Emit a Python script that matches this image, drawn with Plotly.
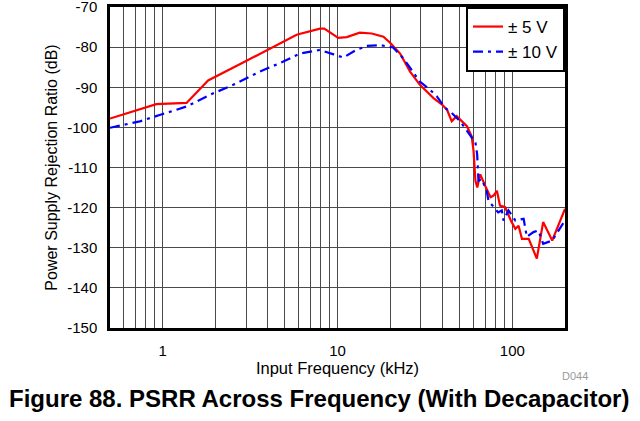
import numpy as np
import plotly.graph_objects as go

# PSRR vs frequency
freq_5v = [0.5, 0.92, 1.37, 1.82, 3.02, 5.84, 7.94, 8.4, 10.1, 11.3, 13.4, 15.7, 18.3, 20,
           22.8, 26, 29.6, 35.4, 39.6, 42.3, 45, 48, 55, 58.5, 60, 61.5, 63, 65.5, 70, 75,
           78, 81.6, 85, 91, 98, 104, 108.5, 113.5, 124, 138, 150, 169, 200]
psrr_5v = [-97.8, -94.2, -93.9, -88.3, -83.4, -76.9, -75.4, -75.4, -77.7, -77.5, -76.4, -76.6,
           -77.4, -78.9, -81.6, -86.1, -89.4, -92.7, -94.3, -95.6, -98.5, -97.2, -99.7, -102.2,
           -105.9, -113.3, -115, -111.7, -114.6, -117.4, -117, -115.8, -119.5, -119.9, -123.2,
           -125.3, -124.5, -127.8, -127.8, -132.7, -123.6, -128.2, -120.3]

freq_10v = [0.5, 0.74, 0.98, 1.37, 1.86, 2.53, 3.6, 4.9, 6.1, 7.94, 9.5, 10.8, 12.8, 14.7,
            17.5, 20.8, 23.8, 27.2, 29.6, 33.8, 37, 41.3, 45, 50.3, 56, 61.5, 62.9, 63.2, 64,
            66.7, 71.3, 73, 80, 83, 87, 89, 95, 99, 104, 116, 121, 132, 141, 150, 169, 200]
psrr_10v = [-100.1, -98.5, -96.8, -94.8, -91.9, -89.4, -86.1, -83.6, -81.6, -80.7, -81.8, -82.6,
            -80.7, -79.7, -79.5, -80.1, -82.8, -86.5, -88.6, -90.6, -92.3, -95.2, -96.4, -98.5,
            -101.4, -103.8, -106.7, -110, -113.3, -112.9, -115.8, -118.3, -120.3, -121.2, -120.7,
            -123.2, -120.7, -122, -123.2, -122.8, -127.3, -126.1, -125.7, -129, -128.2, -123.2]

major_ticks = [1, 10, 100]
minor_ticks = [0.6, 0.7, 0.8, 0.9, 2, 3, 4, 5, 6, 7, 8, 9,
               20, 30, 40, 50, 60, 70, 80, 90]
y_ticks = list(range(-150, -69, 10))

FONT = "Liberation Sans, Arial, sans-serif"
GRID = "#4a4a4a"
TOP, BOTTOM, LEFT, RIGHT = 7, 93, 110, 75

fig = go.Figure()
fig.add_trace(go.Scatter(x=freq_5v, y=psrr_5v, mode="lines", name="± 5 V",
                         line=dict(color="#ff0000", width=2.2)))
fig.add_trace(go.Scatter(x=freq_10v, y=psrr_10v, mode="lines", name="± 10 V",
                         line=dict(color="#0000ff", width=2.2, dash="10px,5px,3px,5px")))

fig.update_layout(
    width=640, height=421,
    margin=dict(l=LEFT, r=RIGHT, t=TOP, b=BOTTOM),
    paper_bgcolor="white", plot_bgcolor="white",
    font=dict(family=FONT, size=15, color="black"),
    showlegend=True,
    legend=dict(x=1, y=1, xanchor="right", yanchor="top",
                bordercolor="black", borderwidth=2, bgcolor="white",
                font=dict(size=17), tracegroupgap=0),
    xaxis=dict(
        type="log", range=[np.log10(0.5), np.log10(200)],
        tickvals=major_ticks, ticktext=[str(t) for t in major_ticks],
        showgrid=True, gridcolor=GRID, gridwidth=1.4,
        minor=dict(tickvals=minor_ticks, showgrid=True, gridcolor=GRID, gridwidth=1.4),
        showline=True, linecolor="black", linewidth=2.5, mirror=True,
        ticks="", tickfont=dict(size=15), automargin=False, ticklabelstandoff=7,
        title=dict(text="Input Frequency (kHz)", font=dict(size=16.5), standoff=2),
        zeroline=False,
    ),
    yaxis=dict(
        range=[-150, -70], tickvals=y_ticks, ticktext=[str(t) for t in y_ticks],
        showgrid=True, gridcolor=GRID, gridwidth=1.4,
        showline=True, linecolor="black", linewidth=2.5, mirror=True,
        ticks="", tickfont=dict(size=15), automargin=False, ticklabelstandoff=7,
        ticklabeloverflow="allow",
        title=dict(text="Power Supply Rejection Ratio (dB)", font=dict(size=16), standoff=6),
        zeroline=False,
    ),
    annotations=[
        dict(text="D044", xref="paper", yref="paper", showarrow=False,
             xanchor="center", yanchor="middle",
             font=dict(size=11, color="#9a9a9a")),
        dict(text="<b>Figure 88. PSRR Across Frequency (With Decapacitor)</b>",
             xref="paper", yref="paper", showarrow=False,
             xanchor="center", yanchor="middle",
             font=dict(size=24)),
    ],
)

# place the two bottom annotations in pixel terms relative to the plot area
plot_w = 640 - LEFT - RIGHT
plot_h = 421 - TOP - BOTTOM
plot_bottom = 421 - BOTTOM
fig.layout.annotations[0].update(x=(575 - LEFT) / plot_w, y=(plot_bottom - 376) / plot_h)
fig.layout.annotations[1].update(x=(319 - LEFT) / plot_w, y=(plot_bottom - 398) / plot_h)

# drop the default page margin so the figure sits at the window's top-left corner
fig.write_html("out.html", config={"displayModeBar": False},
               post_script="document.body.style.margin='0';")
